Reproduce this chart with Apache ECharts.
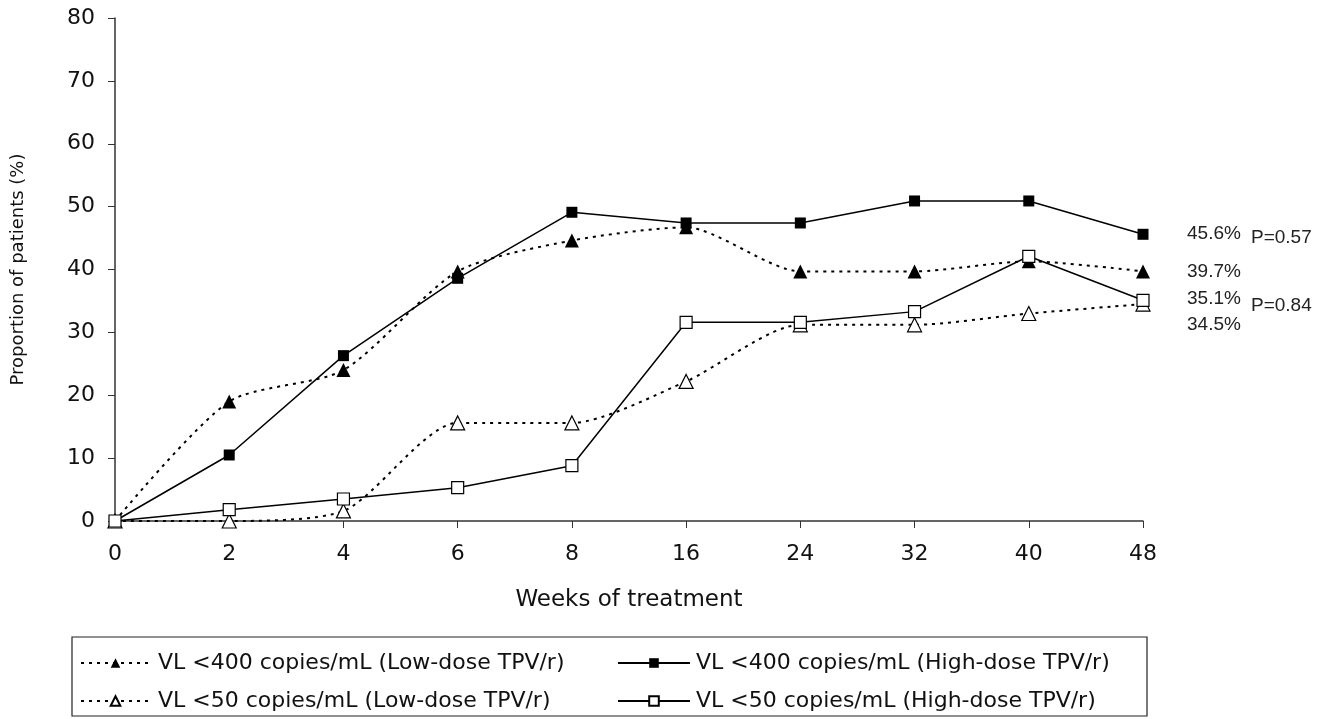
<!DOCTYPE html>
<html><head><meta charset="utf-8">
<script src="https://cdn.jsdelivr.net/npm/echarts@6/dist/echarts.min.js"></script>
<style>html,body{margin:0;padding:0;background:#fff}#c{width:1333px;height:719px}</style>
</head><body><div id="c"></div>
<script>
var weeks = ['0','2','4','6','8','16','24','32','40','48'];
var lowDose400 = [0, 19.0, 24.0, 39.7, 44.6, 46.7, 39.7, 39.7, 41.3, 39.7];
var highDose400 = [0, 10.5, 26.3, 38.6, 49.1, 47.4, 47.4, 50.9, 50.9, 45.6];
var lowDose50 = [0, 0, 1.6, 15.6, 15.6, 22.2, 31.2, 31.2, 33.0, 34.5];
var highDose50 = [0, 1.8, 3.5, 5.3, 8.8, 31.6, 31.6, 33.3, 42.1, 35.1];
var names = ['VL <400 copies/mL (Low-dose TPV/r)','VL <400 copies/mL (High-dose TPV/r)','VL <50 copies/mL (Low-dose TPV/r)','VL <50 copies/mL (High-dose TPV/r)'];
var pLabels = ['P=0.57','P=0.84'];

var chart = echarts.init(document.getElementById('c'));
var F = '"DejaVu Sans", Verdana, sans-serif';
var A = '"Liberation Sans", Arial, sans-serif';
function endLab(offsetY){
  return {show:true, formatter:'{c}%', fontFamily:A, fontSize:19, color:'#222', distance:44, offset:[0, offsetY]};
}
chart.setOption({
  animation:false,
  grid:{left:115, right:190, top:18, bottom:198, containLabel:false},
  xAxis:{type:'category', data:weeks, boundaryGap:false,
    axisLine:{lineStyle:{color:'#333', width:1.5}},
    axisTick:{show:true, length:7, alignWithLabel:true, lineStyle:{color:'#333'}},
    axisLabel:{fontFamily:F, fontSize:22, color:'#111', margin:22},
    name:'Weeks of treatment', nameLocation:'middle', nameGap:68,
    nameTextStyle:{fontFamily:F, fontSize:23, color:'#111'}},
  yAxis:{type:'value', min:0, max:80, interval:10,
    axisLine:{show:true, lineStyle:{color:'#333', width:1.5}},
    axisTick:{show:true, length:7, lineStyle:{color:'#333'}},
    splitLine:{show:false},
    axisLabel:{fontFamily:F, fontSize:22, color:'#111', margin:20},
    name:'Proportion of patients (%)', nameLocation:'middle', nameGap:88,
    nameTextStyle:{fontFamily:F, fontSize:18, color:'#111'}},
  legend:[
    {data:[names[0], names[2]], orient:'vertical', left:80, top:652, itemWidth:69, itemHeight:12, itemGap:16,
      padding:0, textStyle:{fontFamily:F, fontSize:22, color:'#111', padding:[0,0,0,3]}},
    {data:[names[1], names[3]], orient:'vertical', left:617, top:652, itemWidth:72, itemHeight:12, itemGap:16,
      padding:0, textStyle:{fontFamily:F, fontSize:22, color:'#111', padding:[0,0,0,1]}}
  ],
  graphic:[
    {type:'rect', shape:{x:72, y:637, width:1075, height:79}, style:{fill:'none', stroke:'#222', lineWidth:1.2}, silent:true},
    {type:'text', left:1251, top:228, style:{text:pLabels[0], font:'19px "Liberation Sans", Arial', fill:'#222'}},
    {type:'text', left:1251, top:296, style:{text:pLabels[1], font:'19px "Liberation Sans", Arial', fill:'#222'}}
  ],
  series:[
    {name:names[0], type:'line', data:lowDose400, smooth:0.25, symbol:'triangle', symbolSize:14,
      lineStyle:{color:'#000', width:2, type:[3,5]}, itemStyle:{color:'#000'}, endLabel:endLab(0), z:3},
    {name:names[1], type:'line', data:highDose400, symbol:'rect', symbolSize:11,
      lineStyle:{color:'#000', width:1.5}, itemStyle:{color:'#000'}, endLabel:endLab(-1), z:4},
    {name:names[2], type:'line', data:lowDose50, smooth:0.25, symbol:'triangle', symbolSize:14,
      lineStyle:{color:'#000', width:2, type:[3,5]}, itemStyle:{color:'#fff', borderColor:'#000', borderWidth:1.2}, endLabel:endLab(21), z:3},
    {name:names[3], type:'line', data:highDose50, symbol:'rect', symbolSize:12,
      lineStyle:{color:'#000', width:1.5}, itemStyle:{color:'#fff', borderColor:'#000', borderWidth:1.2}, endLabel:endLab(-2), z:4}
  ]
});
</script></body></html>
